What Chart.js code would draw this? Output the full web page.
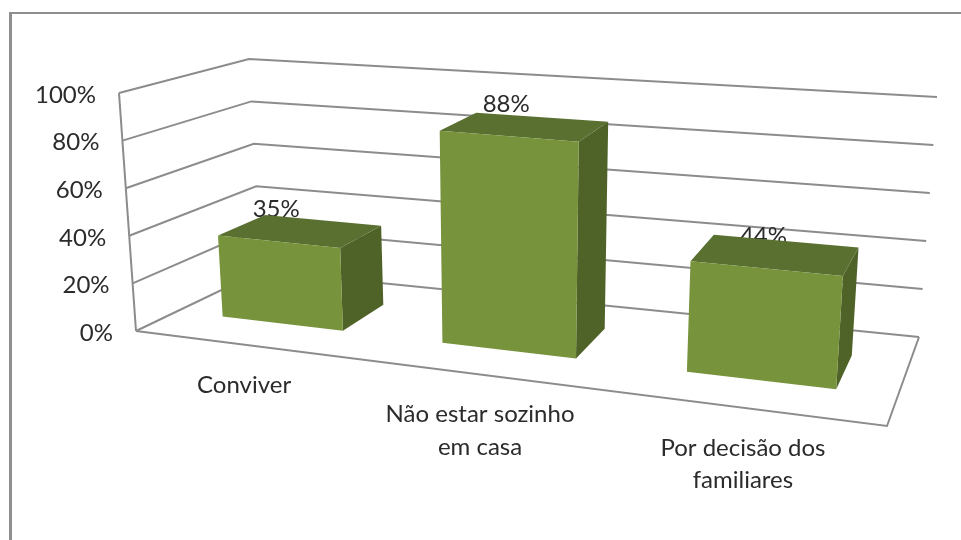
<!DOCTYPE html>
<html>
<head>
<meta charset="utf-8">
<title>Chart</title>
<style>
  html, body { margin: 0; padding: 0; background: #fff; overflow: hidden; }
  #frame { position: absolute; left: 9px; top: 12px; width: 1000px; height: 600px; border: 2px solid #8f8f8f; border-left-width: 3px; }
  #myChart { position: absolute; left: 0; top: 0; filter: blur(0.6px); }
</style>
<script src="https://cdn.jsdelivr.net/npm/chart.js@4"></script>
</head>
<body>
<div id="frame"></div>
<canvas id="myChart" width="961" height="540"></canvas>
<script>
const categories = [['Conviver'], ['Não estar sozinho', 'em casa'], ['Por decisão dos', 'familiares']];
const seriesValues = [35, 88, 44];
const valueLabels = ['35%', '88%', '44%'];
const tickLabels = ['0%', '20%', '40%', '60%', '80%', '100%'];

const font = '24px Lato';
const textColor = '#2b2b2b';
const gridColor = '#8c8c8c';
const frontColor = '#77933c';
const topColor = '#5a7030';
const sideColor = '#4f6228';

// corners of the 3D box on screen, this is the camera, not the data
const room = {
    floor: { fl: [136, 331], fr: [887, 426], bl: [261, 271], br: [919, 337] },
    ceil: { fl: [119, 93], fr: [905, 156], bl: [249, 59], br: [937, 97] }
};
const perspective = 0.85;
const barDepth = [0.33, 0.72];

function mix(a, b, t) {
    return [a[0] + (b[0] - a[0]) * t, a[1] + (b[1] - a[1]) * t];
}

// t across categories, v up the value axis, w into the back: all 0..1
function project(t, v, w) {
    const u = t * perspective / (1 + (perspective - 1) * t);
    const f = room.floor;
    const c = room.ceil;
    const low = mix(mix(f.fl, f.fr, u), mix(f.bl, f.br, u), w);
    const high = mix(mix(c.fl, c.fr, u), mix(c.bl, c.br, u), w);
    return mix(low, high, v);
}

function poly(ctx, pts, fill) {
    ctx.beginPath();
    pts.forEach((p, i) => (i ? ctx.lineTo(p[0], p[1]) : ctx.moveTo(p[0], p[1])));
    ctx.closePath();
    ctx.fillStyle = fill;
    ctx.fill();
}

function line(ctx, pts) {
    ctx.beginPath();
    pts.forEach((p, i) => (i ? ctx.lineTo(p[0], p[1]) : ctx.moveTo(p[0], p[1])));
    ctx.stroke();
}

const box3d = {
    id: 'box3d',
    beforeDatasetsDraw(chart) {
        const ctx = chart.ctx;
        const yScale = chart.scales.y;
        const xScale = chart.scales.x;
        const area = chart.chartArea;
        ctx.save();
        ctx.strokeStyle = gridColor;
        ctx.lineWidth = 2;
        ctx.lineJoin = 'miter';

        // walls, one line per tick of the value axis
        yScale.ticks.forEach((tick) => {
            const v = (area.bottom - yScale.getPixelForValue(tick.value)) / area.height;
            line(ctx, [project(0, v, 0), project(0, v, 1), project(1, v, 1)]);
        });
        line(ctx, [project(0, 0, 0), project(0, 1, 0)]);
        // floor
        line(ctx, [project(0, 0, 0), project(1, 0, 0), project(1, 0, 1)]);

        ctx.font = font;
        ctx.fillStyle = textColor;

        // value axis labels follow the slanted front edge
        ctx.textAlign = 'right';
        ctx.textBaseline = 'middle';
        yScale.ticks.forEach((tick) => {
            const v = (area.bottom - yScale.getPixelForValue(tick.value)) / area.height;
            const p = project(0, v, 0);
            ctx.fillText(tick.label, p[0] - 23, p[1] + 2);
        });

        // category labels under the front of the floor
        ctx.textAlign = 'center';
        ctx.textBaseline = 'top';
        categories.forEach((lines, i) => {
            const t = (xScale.getPixelForValue(i) - area.left) / area.width;
            const p = project(t, 0, 0);
            lines.forEach((txt, j) => ctx.fillText(txt, p[0] - 1, p[1] + 28 + j * 32.5));
        });

        // value labels go under the bars, the top faces clip them a bit
        ctx.textBaseline = 'middle';
        chart.getDatasetMeta(0).data.forEach((bar, i) => {
            const t = (bar.x - area.left) / area.width;
            const v = (area.bottom - bar.y) / area.height;
            const p = project(t, v, barDepth[0]);
            ctx.fillText(valueLabels[i], p[0] - 2, p[1] - 32);
        });
        ctx.restore();
    },
    beforeDatasetDraw(chart, args) {
        const ctx = chart.ctx;
        const area = chart.chartArea;
        args.meta.data.forEach((bar) => {
            const t0 = (bar.x - bar.width / 2 - area.left) / area.width;
            const t1 = (bar.x + bar.width / 2 - area.left) / area.width;
            const v = (area.bottom - bar.y) / area.height;
            const d0 = barDepth[0];
            const d1 = barDepth[1];
            poly(ctx, [project(t1, 0, d0), project(t1, 0, d1), project(t1, v, d1), project(t1, v, d0)], sideColor);
            poly(ctx, [project(t0, v, d0), project(t1, v, d0), project(t1, v, d1), project(t0, v, d1)], topColor);
            poly(ctx, [project(t0, 0, d0), project(t1, 0, d0), project(t1, v, d0), project(t0, v, d0)], frontColor);
        });
        return false;
    }
};

const myChart = new Chart(document.getElementById('myChart'), {
    type: 'bar',
    data: {
        labels: categories,
        datasets: [{
            label: 'Series',
            data: seriesValues,
            backgroundColor: frontColor,
            categoryPercentage: 0.56,
            barPercentage: 1
        }]
    },
    options: {
        responsive: false,
        animation: false,
        layout: { padding: { left: 120, right: 75, top: 94, bottom: 110 } },
        plugins: { legend: { display: false }, tooltip: { enabled: false } },
        scales: {
            x: { display: false },
            y: {
                display: false,
                min: 0,
                max: 100,
                ticks: { stepSize: 20, callback: (value, i) => tickLabels[i] }
            }
        }
    },
    plugins: [box3d]
});
</script>
</body>
</html>
